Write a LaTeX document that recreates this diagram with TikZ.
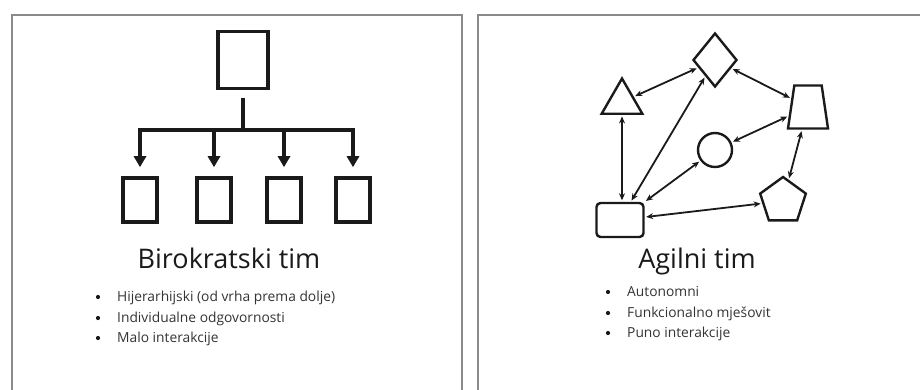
\documentclass[tikz,border=0pt]{standalone}
\usepackage{fontspec}
\setmainfont{Open Sans}
\usetikzlibrary{arrows.meta,shapes.geometric}
\definecolor{panelgray}{HTML}{8A8A8A}
\definecolor{ink}{HTML}{1A1A1A}
\definecolor{textgray}{HTML}{333333}
\tikzset{
  panel/.style={draw=panelgray,line width=2.5pt},
  orgbox/.style={draw=ink,line width=3.6pt,rectangle,inner sep=0pt},
  orglink/.style={draw=ink,line width=3.4pt},
  orgarrow/.style={orglink,-{Triangle[length=11pt,width=12pt]}},
  shp/.style={draw=ink,line width=2.4pt,inner sep=0pt},
  link/.style={draw=ink,line width=1.8pt,{Stealth[length=7pt,width=6pt]}-{Stealth[length=7pt,width=6pt]},shorten <=1.5pt,shorten >=1.5pt},
  title/.style={font=\fontsize{27}{30}\selectfont,text=ink,anchor=base},
  item/.style={font=\fontsize{13.8}{16}\selectfont,text=textgray,anchor=base west,inner sep=0pt},
  dot/.style={circle,fill=ink,inner sep=0pt,minimum size=4.2pt}
}
\begin{document}
\begin{tikzpicture}[x=1pt,y=-1pt]
\useasboundingbox (0,0) rectangle (920,389);
% panels
\draw[panel] (12,392) -- (12,15) -- (462,15) -- (462,392);
\draw[panel] (478,392) -- (478,15) -- (923,15);

% ---- left: hierarchy ----
\node[orgbox,minimum width=50pt,minimum height=57pt] (top) at (243,60) {};
\node[orgbox,minimum width=34pt,minimum height=44pt] (b1) at (140,200) {};
\node[orgbox,minimum width=34pt,minimum height=44pt] (b2) at (214,200) {};
\node[orgbox,minimum width=34pt,minimum height=44pt] (b3) at (284,200) {};
\node[orgbox,minimum width=34pt,minimum height=44pt] (b4) at (353,200) {};
\coordinate (hub) at (243,130);
\coordinate (jl) at (140,130);
\coordinate (jr) at (353,130);
\draw[orglink] ([yshift=-8pt]top.south) -- (hub);
\draw[orglink,line cap=rect] (jl) -- (jr);
\draw[orgarrow] (jl) -- ([yshift=9pt]b1.north);
\draw[orgarrow] (hub -| b2) -- ([yshift=9pt]b2.north);
\draw[orgarrow] (hub -| b3) -- ([yshift=9pt]b3.north);
\draw[orgarrow] (jr) -- ([yshift=9pt]b4.north);

\node[title] (t1) at (229,268) {Birokratski tim};
\node[dot] (d11) at (98,297) {};
\node[dot] (d12) at (98,318) {};
\node[dot] (d13) at (98,338) {};
\node[item] (i11) at (117,301) {Hijerarhijski (od vrha prema dolje)};
\node[item] (i12) at (117,322) {Individualne odgovornosti};
\node[item] (i13) at (117,342) {Malo interakcije};

% ---- right: network ----
\node[shp,diamond,minimum width=44pt,minimum height=54pt] (dia) at (715,60) {};
\node[shp,regular polygon,regular polygon sides=3,minimum size=47pt] (tri) at (622,102) {};
\node[shp,trapezium,inner sep=1pt,trapezium left angle=77,trapezium right angle=77,trapezium stretches=true,minimum width=40pt,minimum height=43pt] (trap) at (808,107) {};
\node[shp,circle,minimum size=34pt] (circ) at (715,150) {};
\node[shp,regular polygon,regular polygon sides=5,minimum size=48pt] (pent) at (783,201) {};
\node[shp,rectangle,rounded corners=4pt,minimum width=47pt,minimum height=34pt] (rect) at (620,220) {};

\draw[link] (tri.south) -- (tri.south |- rect.north);
\draw[link] (tri) -- (dia);
\draw[link] (rect) -- (dia);
\draw[link] (dia) -- (trap);
\draw[link] (trap) -- (circ);
\draw[link] (circ) -- (rect);
\draw[link] (trap) -- (pent);
\draw[link] (pent) -- (rect);

\node[title] (t2) at (697,268) {Agilni tim};
\node[dot] (d21) at (608,292) {};
\node[dot] (d22) at (608,313) {};
\node[dot] (d23) at (608,333) {};
\node[item] (i21) at (627,296) {Autonomni};
\node[item] (i22) at (627,317) {Funkcionalno mješovit};
\node[item] (i23) at (627,337) {Puno interakcije};
\end{tikzpicture}
\end{document}
